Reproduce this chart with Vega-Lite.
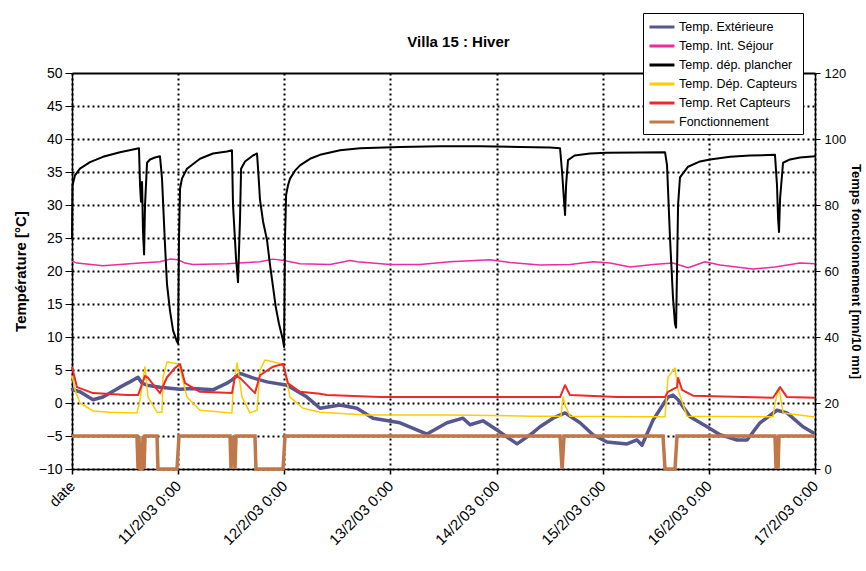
{
"$schema": "https://vega.github.io/schema/vega-lite/v6.json",
"width": 743, "height": 396,
"autosize": {"type": "none"},
"padding": {"left": 72, "top": 73, "right": 51, "bottom": 102},
"background": "white",
"title": {"text": "Villa 15 : Hiver", "fontSize": 15, "fontWeight": "bold", "font": "Liberation Sans", "offset": 0, "dy": 37, "dx": 15, "color": "black"},
"config": {"view": {"stroke": null}, "font": "Liberation Sans",
  "axis": {"labelColor": "black", "titleColor": "black", "domainColor": "black", "tickColor": "black", "labelFont": "Liberation Sans", "titleFont": "Liberation Sans"}},
"data": {"values": [
{"s":"Temp. Extérieure","t":0,"v":2.3},{"s":"Temp. Extérieure","t":0.009,"v":2.0},{"s":"Temp. Extérieure","t":0.075,"v":1.7},{"s":"Temp. Extérieure","t":0.198,"v":0.5},{"s":"Temp. Extérieure","t":0.292,"v":0.9},{"s":"Temp. Extérieure","t":0.358,"v":1.5},{"s":"Temp. Extérieure","t":0.452,"v":2.4},{"s":"Temp. Extérieure","t":0.546,"v":3.2},{"s":"Temp. Extérieure","t":0.622,"v":3.9},{"s":"Temp. Extérieure","t":0.66,"v":3.0},{"s":"Temp. Extérieure","t":0.707,"v":2.7},{"s":"Temp. Extérieure","t":0.829,"v":2.4},{"s":"Temp. Extérieure","t":1.018,"v":2.1},{"s":"Temp. Extérieure","t":1.14,"v":2.2},{"s":"Temp. Extérieure","t":1.328,"v":2.0},{"s":"Temp. Extérieure","t":1.46,"v":3.0},{"s":"Temp. Extérieure","t":1.507,"v":3.5},{"s":"Temp. Extérieure","t":1.583,"v":4.5},{"s":"Temp. Extérieure","t":1.705,"v":3.8},{"s":"Temp. Extérieure","t":1.837,"v":3.2},{"s":"Temp. Extérieure","t":2.026,"v":2.7},{"s":"Temp. Extérieure","t":2.214,"v":0.9},{"s":"Temp. Extérieure","t":2.337,"v":-0.8},{"s":"Temp. Extérieure","t":2.525,"v":-0.3},{"s":"Temp. Extérieure","t":2.685,"v":-0.8},{"s":"Temp. Extérieure","t":2.836,"v":-2.3},{"s":"Temp. Extérieure","t":3.09,"v":-3.0},{"s":"Temp. Extérieure","t":3.345,"v":-4.7},{"s":"Temp. Extérieure","t":3.533,"v":-3.0},{"s":"Temp. Extérieure","t":3.684,"v":-2.3},{"s":"Temp. Extérieure","t":3.75,"v":-3.3},{"s":"Temp. Extérieure","t":3.872,"v":-2.7},{"s":"Temp. Extérieure","t":4.004,"v":-4.1},{"s":"Temp. Extérieure","t":4.193,"v":-6.2},{"s":"Temp. Extérieure","t":4.343,"v":-4.5},{"s":"Temp. Extérieure","t":4.409,"v":-3.6},{"s":"Temp. Extérieure","t":4.532,"v":-2.3},{"s":"Temp. Extérieure","t":4.645,"v":-1.5},{"s":"Temp. Extérieure","t":4.786,"v":-3.0},{"s":"Temp. Extérieure","t":4.909,"v":-4.8},{"s":"Temp. Extérieure","t":5.04,"v":-5.9},{"s":"Temp. Extérieure","t":5.229,"v":-6.2},{"s":"Temp. Extérieure","t":5.323,"v":-5.6},{"s":"Temp. Extérieure","t":5.37,"v":-6.4},{"s":"Temp. Extérieure","t":5.474,"v":-2.6},{"s":"Temp. Extérieure","t":5.615,"v":0.9},{"s":"Temp. Extérieure","t":5.662,"v":1.2},{"s":"Temp. Extérieure","t":5.71,"v":0.5},{"s":"Temp. Extérieure","t":5.823,"v":-2.1},{"s":"Temp. Extérieure","t":5.983,"v":-3.6},{"s":"Temp. Extérieure","t":6.105,"v":-4.8},{"s":"Temp. Extérieure","t":6.265,"v":-5.6},{"s":"Temp. Extérieure","t":6.36,"v":-5.6},{"s":"Temp. Extérieure","t":6.482,"v":-3.0},{"s":"Temp. Extérieure","t":6.642,"v":-1.1},{"s":"Temp. Extérieure","t":6.736,"v":-1.5},{"s":"Temp. Extérieure","t":6.887,"v":-3.6},{"s":"Temp. Extérieure","t":6.982,"v":-4.5},{"s":"Temp. Extérieure","t":7.0,"v":-4.6},
{"s":"Temp. Int. Séjour","t":0,"v":21.5},{"s":"Temp. Int. Séjour","t":0.047,"v":21.2},{"s":"Temp. Int. Séjour","t":0.292,"v":20.8},{"s":"Temp. Int. Séjour","t":0.452,"v":21.0},{"s":"Temp. Int. Séjour","t":0.641,"v":21.2},{"s":"Temp. Int. Séjour","t":0.829,"v":21.4},{"s":"Temp. Int. Séjour","t":0.923,"v":21.8},{"s":"Temp. Int. Séjour","t":0.999,"v":21.7},{"s":"Temp. Int. Séjour","t":1.065,"v":21.2},{"s":"Temp. Int. Séjour","t":1.14,"v":21.0},{"s":"Temp. Int. Séjour","t":1.46,"v":21.1},{"s":"Temp. Int. Séjour","t":1.771,"v":21.4},{"s":"Temp. Int. Séjour","t":1.894,"v":21.8},{"s":"Temp. Int. Séjour","t":1.998,"v":21.6},{"s":"Temp. Int. Séjour","t":2.148,"v":21.1},{"s":"Temp. Int. Séjour","t":2.431,"v":21.0},{"s":"Temp. Int. Séjour","t":2.619,"v":21.6},{"s":"Temp. Int. Séjour","t":2.685,"v":21.4},{"s":"Temp. Int. Séjour","t":2.996,"v":21.0},{"s":"Temp. Int. Séjour","t":3.279,"v":21.0},{"s":"Temp. Int. Séjour","t":3.561,"v":21.4},{"s":"Temp. Int. Séjour","t":3.938,"v":21.7},{"s":"Temp. Int. Séjour","t":4.127,"v":21.3},{"s":"Temp. Int. Séjour","t":4.409,"v":20.9},{"s":"Temp. Int. Séjour","t":4.692,"v":21.0},{"s":"Temp. Int. Séjour","t":4.909,"v":21.4},{"s":"Temp. Int. Séjour","t":5.069,"v":21.2},{"s":"Temp. Int. Séjour","t":5.257,"v":20.6},{"s":"Temp. Int. Séjour","t":5.474,"v":21.0},{"s":"Temp. Int. Séjour","t":5.662,"v":21.2},{"s":"Temp. Int. Séjour","t":5.804,"v":20.5},{"s":"Temp. Int. Séjour","t":5.964,"v":21.4},{"s":"Temp. Int. Séjour","t":6.105,"v":20.9},{"s":"Temp. Int. Séjour","t":6.416,"v":20.3},{"s":"Temp. Int. Séjour","t":6.623,"v":20.6},{"s":"Temp. Int. Séjour","t":6.859,"v":21.2},{"s":"Temp. Int. Séjour","t":7.0,"v":21.1},
{"s":"Temp. dép. plancher","t":0,"v":25},{"s":"Temp. dép. plancher","t":0.005,"v":33},{"s":"Temp. dép. plancher","t":0.028,"v":34.5},{"s":"Temp. dép. plancher","t":0.075,"v":35.5},{"s":"Temp. dép. plancher","t":0.17,"v":36.5},{"s":"Temp. dép. plancher","t":0.292,"v":37.3},{"s":"Temp. dép. plancher","t":0.452,"v":38.0},{"s":"Temp. dép. plancher","t":0.631,"v":38.6},{"s":"Temp. dép. plancher","t":0.641,"v":33},{"s":"Temp. dép. plancher","t":0.65,"v":30.5},{"s":"Temp. dép. plancher","t":0.66,"v":33.5},{"s":"Temp. dép. plancher","t":0.669,"v":26},{"s":"Temp. dép. plancher","t":0.679,"v":22.5},{"s":"Temp. dép. plancher","t":0.688,"v":30},{"s":"Temp. dép. plancher","t":0.707,"v":36.4},{"s":"Temp. dép. plancher","t":0.735,"v":36.9},{"s":"Temp. dép. plancher","t":0.782,"v":37.2},{"s":"Temp. dép. plancher","t":0.829,"v":37.4},{"s":"Temp. dép. plancher","t":0.848,"v":34},{"s":"Temp. dép. plancher","t":0.876,"v":24},{"s":"Temp. dép. plancher","t":0.895,"v":18},{"s":"Temp. dép. plancher","t":0.923,"v":14},{"s":"Temp. dép. plancher","t":0.952,"v":11},{"s":"Temp. dép. plancher","t":0.989,"v":9.3},{"s":"Temp. dép. plancher","t":0.999,"v":9.0},{"s":"Temp. dép. plancher","t":1.008,"v":25},{"s":"Temp. dép. plancher","t":1.018,"v":32.5},{"s":"Temp. dép. plancher","t":1.036,"v":34},{"s":"Temp. dép. plancher","t":1.083,"v":35.5},{"s":"Temp. dép. plancher","t":1.206,"v":37},{"s":"Temp. dép. plancher","t":1.328,"v":37.8},{"s":"Temp. dép. plancher","t":1.46,"v":38.1},{"s":"Temp. dép. plancher","t":1.507,"v":38.3},{"s":"Temp. dép. plancher","t":1.517,"v":30},{"s":"Temp. dép. plancher","t":1.545,"v":22},{"s":"Temp. dép. plancher","t":1.564,"v":18.3},{"s":"Temp. dép. plancher","t":1.583,"v":28},{"s":"Temp. dép. plancher","t":1.593,"v":35.5},{"s":"Temp. dép. plancher","t":1.63,"v":36.6},{"s":"Temp. dép. plancher","t":1.705,"v":37.5},{"s":"Temp. dép. plancher","t":1.743,"v":37.8},{"s":"Temp. dép. plancher","t":1.757,"v":34.5},{"s":"Temp. dép. plancher","t":1.771,"v":30.8},{"s":"Temp. dép. plancher","t":1.8,"v":27.5},{"s":"Temp. dép. plancher","t":1.837,"v":24.7},{"s":"Temp. dép. plancher","t":1.865,"v":21},{"s":"Temp. dép. plancher","t":1.894,"v":17.6},{"s":"Temp. dép. plancher","t":1.92,"v":14.5},{"s":"Temp. dép. plancher","t":1.95,"v":12},{"s":"Temp. dép. plancher","t":1.988,"v":9.5},{"s":"Temp. dép. plancher","t":1.998,"v":8.5},{"s":"Temp. dép. plancher","t":2.007,"v":25},{"s":"Temp. dép. plancher","t":2.017,"v":31.5},{"s":"Temp. dép. plancher","t":2.035,"v":33},{"s":"Temp. dép. plancher","t":2.054,"v":34},{"s":"Temp. dép. plancher","t":2.101,"v":35.2},{"s":"Temp. dép. plancher","t":2.148,"v":36},{"s":"Temp. dép. plancher","t":2.242,"v":37},{"s":"Temp. dép. plancher","t":2.337,"v":37.6},{"s":"Temp. dép. plancher","t":2.525,"v":38.3},{"s":"Temp. dép. plancher","t":2.713,"v":38.6},{"s":"Temp. dép. plancher","t":3.09,"v":38.8},{"s":"Temp. dép. plancher","t":3.467,"v":38.9},{"s":"Temp. dép. plancher","t":3.844,"v":38.9},{"s":"Temp. dép. plancher","t":4.221,"v":38.8},{"s":"Temp. dép. plancher","t":4.503,"v":38.7},{"s":"Temp. dép. plancher","t":4.598,"v":38.6},{"s":"Temp. dép. plancher","t":4.617,"v":35},{"s":"Temp. dép. plancher","t":4.645,"v":28.5},{"s":"Temp. dép. plancher","t":4.655,"v":33},{"s":"Temp. dép. plancher","t":4.673,"v":36.8},{"s":"Temp. dép. plancher","t":4.735,"v":37.5},{"s":"Temp. dép. plancher","t":4.88,"v":37.8},{"s":"Temp. dép. plancher","t":5.04,"v":37.9},{"s":"Temp. dép. plancher","t":5.35,"v":37.95},{"s":"Temp. dép. plancher","t":5.587,"v":38.0},{"s":"Temp. dép. plancher","t":5.606,"v":36},{"s":"Temp. dép. plancher","t":5.634,"v":25},{"s":"Temp. dép. plancher","t":5.662,"v":16},{"s":"Temp. dép. plancher","t":5.681,"v":12},{"s":"Temp. dép. plancher","t":5.691,"v":11.4},{"s":"Temp. dép. plancher","t":5.7,"v":20},{"s":"Temp. dép. plancher","t":5.71,"v":30},{"s":"Temp. dép. plancher","t":5.728,"v":34.2},{"s":"Temp. dép. plancher","t":5.804,"v":35.8},{"s":"Temp. dép. plancher","t":5.917,"v":36.6},{"s":"Temp. dép. plancher","t":6.011,"v":36.9},{"s":"Temp. dép. plancher","t":6.199,"v":37.3},{"s":"Temp. dép. plancher","t":6.388,"v":37.5},{"s":"Temp. dép. plancher","t":6.623,"v":37.6},{"s":"Temp. dép. plancher","t":6.642,"v":33},{"s":"Temp. dép. plancher","t":6.652,"v":28},{"s":"Temp. dép. plancher","t":6.661,"v":25.9},{"s":"Temp. dép. plancher","t":6.671,"v":31},{"s":"Temp. dép. plancher","t":6.699,"v":36.4},{"s":"Temp. dép. plancher","t":6.765,"v":36.9},{"s":"Temp. dép. plancher","t":6.859,"v":37.2},{"s":"Temp. dép. plancher","t":7.0,"v":37.4},
{"s":"Temp. Dép. Capteurs","t":0,"v":4.2},{"s":"Temp. Dép. Capteurs","t":0.028,"v":2},{"s":"Temp. Dép. Capteurs","t":0.075,"v":0.0},{"s":"Temp. Dép. Capteurs","t":0.198,"v":-1.2},{"s":"Temp. Dép. Capteurs","t":0.358,"v":-1.4},{"s":"Temp. Dép. Capteurs","t":0.612,"v":-1.5},{"s":"Temp. Dép. Capteurs","t":0.641,"v":0.5},{"s":"Temp. Dép. Capteurs","t":0.688,"v":5.5},{"s":"Temp. Dép. Capteurs","t":0.716,"v":0.9},{"s":"Temp. Dép. Capteurs","t":0.801,"v":-1.4},{"s":"Temp. Dép. Capteurs","t":0.848,"v":-1.4},{"s":"Temp. Dép. Capteurs","t":0.857,"v":3.9},{"s":"Temp. Dép. Capteurs","t":0.895,"v":6.2},{"s":"Temp. Dép. Capteurs","t":0.989,"v":6.0},{"s":"Temp. Dép. Capteurs","t":1.018,"v":5.3},{"s":"Temp. Dép. Capteurs","t":1.083,"v":0.9},{"s":"Temp. Dép. Capteurs","t":1.206,"v":-1.1},{"s":"Temp. Dép. Capteurs","t":1.507,"v":-1.5},{"s":"Temp. Dép. Capteurs","t":1.517,"v":2.0},{"s":"Temp. Dép. Capteurs","t":1.555,"v":6.1},{"s":"Temp. Dép. Capteurs","t":1.602,"v":0.9},{"s":"Temp. Dép. Capteurs","t":1.677,"v":-1.5},{"s":"Temp. Dép. Capteurs","t":1.743,"v":-1.1},{"s":"Temp. Dép. Capteurs","t":1.771,"v":5.0},{"s":"Temp. Dép. Capteurs","t":1.818,"v":6.5},{"s":"Temp. Dép. Capteurs","t":1.96,"v":6.0},{"s":"Temp. Dép. Capteurs","t":1.998,"v":5.5},{"s":"Temp. Dép. Capteurs","t":2.054,"v":0.9},{"s":"Temp. Dép. Capteurs","t":2.176,"v":-0.8},{"s":"Temp. Dép. Capteurs","t":2.337,"v":-1.4},{"s":"Temp. Dép. Capteurs","t":2.779,"v":-1.8},{"s":"Temp. Dép. Capteurs","t":3.561,"v":-1.8},{"s":"Temp. Dép. Capteurs","t":4.343,"v":-2.0},{"s":"Temp. Dép. Capteurs","t":4.607,"v":-2.0},{"s":"Temp. Dép. Capteurs","t":4.626,"v":0.9},{"s":"Temp. Dép. Capteurs","t":4.645,"v":-0.3},{"s":"Temp. Dép. Capteurs","t":4.692,"v":-2.0},{"s":"Temp. Dép. Capteurs","t":5.351,"v":-2.1},{"s":"Temp. Dép. Capteurs","t":5.587,"v":-2.1},{"s":"Temp. Dép. Capteurs","t":5.615,"v":3.9},{"s":"Temp. Dép. Capteurs","t":5.681,"v":5.3},{"s":"Temp. Dép. Capteurs","t":5.71,"v":2.0},{"s":"Temp. Dép. Capteurs","t":5.794,"v":-2.0},{"s":"Temp. Dép. Capteurs","t":6.605,"v":-2.1},{"s":"Temp. Dép. Capteurs","t":6.623,"v":0.0},{"s":"Temp. Dép. Capteurs","t":6.661,"v":2.3},{"s":"Temp. Dép. Capteurs","t":6.699,"v":-1.5},{"s":"Temp. Dép. Capteurs","t":6.982,"v":-2.1},{"s":"Temp. Dép. Capteurs","t":7.0,"v":-2.1},
{"s":"Temp. Ret Capteurs","t":0,"v":5.5},{"s":"Temp. Ret Capteurs","t":0.047,"v":2.4},{"s":"Temp. Ret Capteurs","t":0.198,"v":1.5},{"s":"Temp. Ret Capteurs","t":0.518,"v":1.2},{"s":"Temp. Ret Capteurs","t":0.622,"v":1.2},{"s":"Temp. Ret Capteurs","t":0.688,"v":4.1},{"s":"Temp. Ret Capteurs","t":0.716,"v":3.8},{"s":"Temp. Ret Capteurs","t":0.829,"v":1.5},{"s":"Temp. Ret Capteurs","t":0.895,"v":3.9},{"s":"Temp. Ret Capteurs","t":0.97,"v":5.3},{"s":"Temp. Ret Capteurs","t":1.018,"v":5.9},{"s":"Temp. Ret Capteurs","t":1.065,"v":3.0},{"s":"Temp. Ret Capteurs","t":1.206,"v":1.7},{"s":"Temp. Ret Capteurs","t":1.507,"v":1.5},{"s":"Temp. Ret Capteurs","t":1.536,"v":4.1},{"s":"Temp. Ret Capteurs","t":1.583,"v":3.8},{"s":"Temp. Ret Capteurs","t":1.724,"v":1.5},{"s":"Temp. Ret Capteurs","t":1.771,"v":4.2},{"s":"Temp. Ret Capteurs","t":1.894,"v":5.5},{"s":"Temp. Ret Capteurs","t":1.988,"v":5.9},{"s":"Temp. Ret Capteurs","t":2.035,"v":3.0},{"s":"Temp. Ret Capteurs","t":2.148,"v":1.7},{"s":"Temp. Ret Capteurs","t":2.337,"v":1.4},{"s":"Temp. Ret Capteurs","t":2.402,"v":1.2},{"s":"Temp. Ret Capteurs","t":2.902,"v":0.9},{"s":"Temp. Ret Capteurs","t":4.004,"v":0.9},{"s":"Temp. Ret Capteurs","t":4.598,"v":0.9},{"s":"Temp. Ret Capteurs","t":4.645,"v":2.7},{"s":"Temp. Ret Capteurs","t":4.692,"v":1.2},{"s":"Temp. Ret Capteurs","t":5.135,"v":0.9},{"s":"Temp. Ret Capteurs","t":5.587,"v":0.9},{"s":"Temp. Ret Capteurs","t":5.615,"v":1.7},{"s":"Temp. Ret Capteurs","t":5.7,"v":2.4},{"s":"Temp. Ret Capteurs","t":5.71,"v":3.8},{"s":"Temp. Ret Capteurs","t":5.747,"v":2.0},{"s":"Temp. Ret Capteurs","t":5.851,"v":1.1},{"s":"Temp. Ret Capteurs","t":6.605,"v":0.8},{"s":"Temp. Ret Capteurs","t":6.671,"v":2.4},{"s":"Temp. Ret Capteurs","t":6.736,"v":0.9},{"s":"Temp. Ret Capteurs","t":7.0,"v":0.8},
{"s":"Fonctionnement","t":0,"v":10},{"s":"Fonctionnement","t":0.612,"v":10},{"s":"Fonctionnement","t":0.622,"v":0},{"s":"Fonctionnement","t":0.631,"v":10},{"s":"Fonctionnement","t":0.641,"v":0},{"s":"Fonctionnement","t":0.66,"v":0},{"s":"Fonctionnement","t":0.669,"v":10},{"s":"Fonctionnement","t":0.679,"v":0},{"s":"Fonctionnement","t":0.688,"v":10},{"s":"Fonctionnement","t":0.801,"v":10},{"s":"Fonctionnement","t":0.81,"v":0},{"s":"Fonctionnement","t":0.989,"v":0},{"s":"Fonctionnement","t":1.008,"v":10},{"s":"Fonctionnement","t":1.489,"v":10},{"s":"Fonctionnement","t":1.498,"v":0},{"s":"Fonctionnement","t":1.517,"v":10},{"s":"Fonctionnement","t":1.536,"v":0},{"s":"Fonctionnement","t":1.545,"v":10},{"s":"Fonctionnement","t":1.724,"v":10},{"s":"Fonctionnement","t":1.733,"v":0},{"s":"Fonctionnement","t":1.988,"v":0},{"s":"Fonctionnement","t":2.007,"v":10},{"s":"Fonctionnement","t":4.598,"v":10},{"s":"Fonctionnement","t":4.617,"v":0},{"s":"Fonctionnement","t":4.636,"v":10},{"s":"Fonctionnement","t":5.568,"v":10},{"s":"Fonctionnement","t":5.587,"v":0},{"s":"Fonctionnement","t":5.681,"v":0},{"s":"Fonctionnement","t":5.7,"v":10},{"s":"Fonctionnement","t":6.623,"v":10},{"s":"Fonctionnement","t":6.633,"v":0},{"s":"Fonctionnement","t":6.642,"v":10},{"s":"Fonctionnement","t":6.652,"v":0},{"s":"Fonctionnement","t":6.661,"v":10},{"s":"Fonctionnement","t":7.0,"v":10}
]},
"encoding": {
  "x": {"field": "t", "type": "quantitative", "scale": {"domain": [0, 7], "nice": false, "zero": false},
    "axis": {"values": [0,1,2,3,4,5,6,7], "labelExpr": "datum.value == 0 ? 'date' : (10 + datum.value) + '/2/03 0:00'", "labelAngle": -45, "labelAlign": "right", "labelBaseline": "middle", "labelFontSize": 15, "labelPadding": 9, "tickSize": 5, "tickWidth": 1.5, "domainWidth": 1.5, "grid": true, "gridColor": "black", "gridDash": [2, 3], "gridWidth": 2, "gridOpacity": 1, "title": null}},
  "color": {"field": "s", "type": "nominal",
    "scale": {"domain": ["Temp. Extérieure", "Temp. Int. Séjour", "Temp. dép. plancher", "Temp. Dép. Capteurs", "Temp. Ret Capteurs", "Fonctionnement"],
              "range": ["#575790", "#ee2aa0", "#000000", "#ffcc00", "#f02828", "#c0784a"]},
    "legend": {"orient": "none", "legendX": 571, "legendY": -60, "title": null, "strokeColor": "black", "fillColor": "white", "padding": 5, "symbolType": "M-1,0H2.33", "symbolSize": 225, "symbolStrokeWidth": 3, "labelFontSize": 12.5, "labelFont": "Liberation Sans", "labelColor": "black", "labelOffset": 13, "rowPadding": 3}}
},
"layer": [
 {"encoding": {
   "y": {"field": "v", "type": "quantitative", "scale": {"domain": [-10, 50], "nice": false, "zero": false},
     "axis": {"values": [-10,-5,0,5,10,15,20,25,30,35,40,45,50], "title": "Température [°C]", "titleFontSize": 15, "titleFontWeight": "bold", "titlePadding": 10, "labelFontSize": 14, "labelPadding": 3, "tickSize": 7, "domainWidth": 1.5, "grid": true, "gridColor": "black", "gridOpacity": 1,
       "gridDash": {"condition": {"test": "datum.value == 50", "value": [1, 0]}, "value": [2, 3]},
       "gridWidth": 2}}},
  "layer": [
   {"transform": [{"filter": "datum.s == 'Temp. Extérieure'"}], "mark": {"type": "line", "strokeWidth": 3.5, "strokeJoin": "round"}},
   {"transform": [{"filter": "datum.s == 'Temp. Int. Séjour'"}], "mark": {"type": "line", "strokeWidth": 1.5, "strokeJoin": "round"}},
   {"transform": [{"filter": "datum.s == 'Temp. dép. plancher'"}], "mark": {"type": "line", "strokeWidth": 2, "strokeJoin": "round"}},
   {"transform": [{"filter": "datum.s == 'Temp. Dép. Capteurs'"}], "mark": {"type": "line", "strokeWidth": 1.5, "strokeJoin": "round"}},
   {"transform": [{"filter": "datum.s == 'Temp. Ret Capteurs'"}], "mark": {"type": "line", "strokeWidth": 2, "strokeJoin": "round"}}
  ]},
 {"transform": [{"filter": "datum.s == 'Fonctionnement'"}],
  "mark": {"type": "line", "strokeWidth": 3.5, "strokeJoin": "miter"},
  "encoding": {
   "y": {"field": "v", "type": "quantitative", "scale": {"domain": [0, 120], "nice": false, "zero": false},
     "axis": {"orient": "right", "values": [0,20,40,60,80,100,120], "title": "Temps fonctionnement [mn/10 mn]", "titleFontSize": 13, "titleFontWeight": "bold", "titlePadding": 3, "labelFontSize": 13, "labelPadding": 4, "tickSize": 5, "domainWidth": 1.5, "grid": false}}
  }}
],
"resolve": {"scale": {"y": "independent"}}
}
